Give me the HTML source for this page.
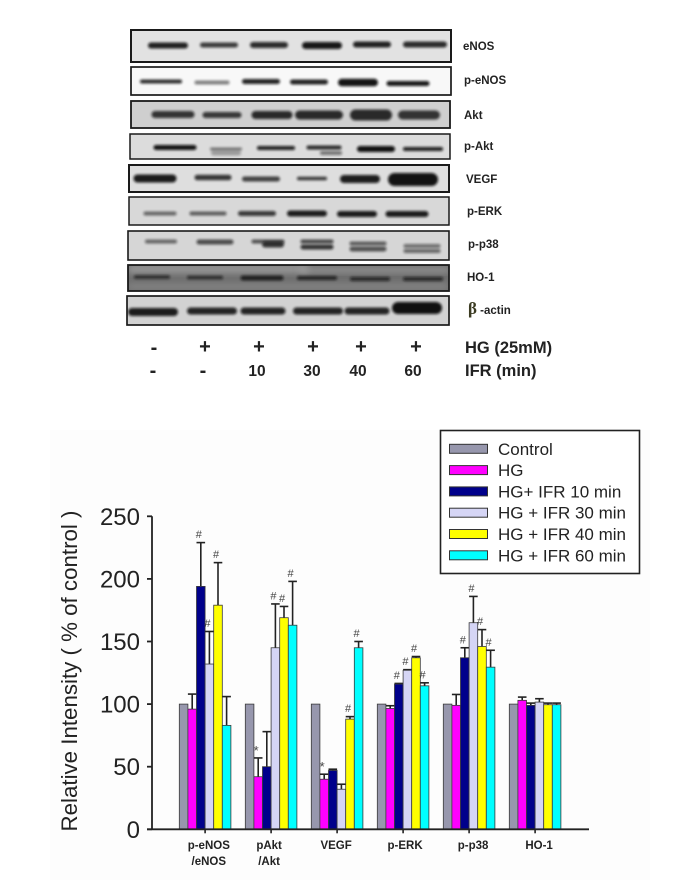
<!DOCTYPE html>
<html>
<head>
<meta charset="utf-8">
<title>Western blots and relative intensity chart</title>
<style>
html,body{margin:0;padding:0;background:#fff;}
#figure{display:block;width:685px;height:896px;font-family:"Liberation Sans",sans-serif;}
</style>
</head>
<body>
<svg id="figure" xmlns="http://www.w3.org/2000/svg" width="685" height="896" viewBox="0 0 685 896">
<defs>
<filter id="blur1" x="-30%" y="-150%" width="160%" height="400%"><feGaussianBlur stdDeviation="1.2"/></filter>
<filter id="blur3" x="-30%" y="-100%" width="160%" height="300%"><feGaussianBlur stdDeviation="3.5"/></filter>
<filter id="soft" x="-5%" y="-20%" width="110%" height="140%"><feGaussianBlur stdDeviation="0.35"/></filter>
</defs>
<rect x="50" y="430" width="600" height="450" fill="#fdfdfd"/>
<g id="blots"></g>

<g font-weight="bold" font-size="11.5" fill="#222" filter="url(#soft)">
<text x="463" y="50">eNOS</text>
<text x="464" y="84">p-eNOS</text>
<text x="464" y="119">Akt</text>
<text x="464" y="150">p-Akt</text>
<text x="466" y="183">VEGF</text>
<text x="467" y="215">p-ERK</text>
<text x="468" y="248">p-p38</text>
<text x="467" y="281">HO-1</text>
<text x="468" y="314"><tspan font-family="'Liberation Serif',serif" font-size="17" fill="#3a3a20">β</tspan> -actin</text>
</g>

<g font-weight="bold" font-size="20" fill="#222" text-anchor="middle" filter="url(#soft)">
<text x="154" y="354">-</text>
<text x="205" y="353">+</text>
<text x="259" y="353">+</text>
<text x="313" y="353">+</text>
<text x="361" y="353">+</text>
<text x="416" y="353">+</text>
<text x="465" y="353" text-anchor="start" font-size="16.5">HG (25mM)</text>
<text x="153" y="377">-</text>
<text x="203" y="377">-</text>
<text x="257" y="376" font-size="15.5">10</text>
<text x="312" y="376" font-size="15.5">30</text>
<text x="358" y="376" font-size="15.5">40</text>
<text x="413" y="376" font-size="15.5">60</text>
<text x="465" y="376" text-anchor="start" font-size="16.5">IFR (min)</text>
</g>

<g id="chart"></g>

<text transform="translate(77,671) rotate(-90)" text-anchor="middle" font-size="22.3" fill="#222" filter="url(#soft)">Relative Intensity ( % of control )</text>

<g>
<rect x="440.5" y="430.5" width="199" height="143" fill="#fff" stroke="#222" stroke-width="1.6"/>
<g id="legend-entries"></g>
</g>
</svg>

<script>
// ---------- chart data ----------
const categories = ['p-eNOS|/eNOS', 'pAkt|/Akt', 'VEGF', 'p-ERK', 'p-p38', 'HO-1'];
const seriesNames = ['Control', 'HG', 'HG+ IFR 10 min', 'HG + IFR 30 min', 'HG + IFR 40 min', 'HG + IFR 60 min'];
const seriesColors = ['#9797ad', '#ff00ff', '#00008b', '#d5d5f5', '#ffff00', '#00ffff'];
const control = [100, 100, 100, 100, 100, 100];
const hg = [96, 42, 40, 96.5, 99, 103];
const ifr10 = [194, 50, 47, 116, 137, 99];
const ifr30 = [132, 145, 32, 127, 165, 101.6];
const ifr40 = [179, 169, 88, 137, 146, 99.5];
const ifr60 = [83, 163, 145, 114.6, 129.5, 99.5];
const controlTop = [100, 100, 100, 100, 100, 100];
const hgTop = [108, 57, 44, 98.7, 107.7, 105.6];
const ifr10Top = [229, 78, 48, 116.5, 145, 100.8];
const ifr30Top = [158, 180, 36, 127.5, 186, 104.3];
const ifr40Top = [213, 178, 90, 138, 159.5, 100.8];
const ifr60Top = [106, 198, 150, 117, 143, 100.8];
const controlMarks = ['', '', '', '', '', ''];
const hgMarks = ['', '*', '*', '', '', ''];
const ifr10Marks = ['#', '', '', '#', '#', ''];
const ifr30Marks = ['#', '#', '', '#', '#', ''];
const ifr40Marks = ['#', '#', '#', '#', '#', ''];
const ifr60Marks = ['', '#', '#', '#', '#', ''];
const yTicks = [0, 50, 100, 150, 200, 250];

const seriesValues = [control, hg, ifr10, ifr30, ifr40, ifr60];
const seriesTops = [controlTop, hgTop, ifr10Top, ifr30Top, ifr40Top, ifr60Top];
const seriesMarks = [controlMarks, hgMarks, ifr10Marks, ifr30Marks, ifr40Marks, ifr60Marks];

// ---------- axis functions ----------
const NS = 'http://www.w3.org/2000/svg';
const BASE_Y = 829.3, PX_PER_UNIT = 1.252;
const FIRST_GROUP_X = 179.3, GROUP_STEP = 66, BAR_W = 8.6;
function yScale(v) { return BASE_Y - v * PX_PER_UNIT; }
function xScale(cat, ser) { return FIRST_GROUP_X + cat * GROUP_STEP + ser * BAR_W; }
function groupCenter(cat) { return xScale(cat, 3); }
const labelNudge = [3.7, -2, -1, 2, 4, 4];

function mk(tag, attrs, parent) {
  const e = document.createElementNS(NS, tag);
  for (const k in attrs) e.setAttribute(k, attrs[k]);
  parent.appendChild(e);
  return e;
}

const chart = document.getElementById('chart');

// bars, error bars and significance marks
seriesValues.forEach(function (vals, s) {
  vals.forEach(function (v, c) {
    const x = xScale(c, s);
    const top = seriesTops[s][c];
    if (top > v) {
      const cx = x + BAR_W / 2;
      const stem = mk('line', {x1: cx, x2: cx, y1: yScale(v), y2: yScale(top), stroke: '#222', 'stroke-width': 1.6}, chart);
      
      
      const cap = mk('line', {x1: x, x2: x + BAR_W, y1: yScale(top), y2: yScale(top), stroke: '#222', 'stroke-width': 1.6}, chart);
      
      
    }
    const bar = mk('rect', {x: x, y: yScale(v), width: BAR_W, height: BASE_Y - yScale(v), fill: seriesColors[s], stroke: '#3a3a3a', 'stroke-width': 0.8}, chart);
    
    
    const m = seriesMarks[s][c];
    if (m) {
      const t = mk('text', {x: x + BAR_W / 2 - 2, y: yScale(top) - (m === '*' ? 3 : 4.5), 'text-anchor': 'middle', 'font-size': m === '*' ? 13 : 11, fill: '#444'}, chart);
      t.textContent = m;
      
      
    }
  });
});

// axes
const yAxis = mk('line', {x1: 152, x2: 152, y1: yScale(250), y2: BASE_Y, stroke: '#222', 'stroke-width': 1.8}, chart);


const xAxis = mk('line', {x1: 147, x2: 589, y1: BASE_Y, y2: BASE_Y, stroke: '#222', 'stroke-width': 1.8}, chart);



yTicks.forEach(function (v) {
  const tk = mk('line', {x1: 147, x2: 152, y1: yScale(v), y2: yScale(v), stroke: '#222', 'stroke-width': 1.8}, chart);
  
  
  const lb = mk('text', {x: 140, y: yScale(v) + 8.5, 'text-anchor': 'end', 'font-size': 24, fill: '#222', filter: 'url(#soft)'}, chart);
  lb.textContent = v;
  
  
});

categories.forEach(function (name, c) {
  const gx = groupCenter(c);
  const tk = mk('line', {x1: gx, x2: gx, y1: BASE_Y, y2: BASE_Y + 4, stroke: '#222', 'stroke-width': 1.6}, chart);
  
  
  name.split('|').forEach(function (line, i) {
    const lb = mk('text', {x: gx + labelNudge[c], y: 849 + i * 16, 'text-anchor': 'middle', 'font-size': 11.5, 'font-weight': 'bold', fill: '#222', filter: 'url(#soft)'}, chart);
    lb.textContent = line;
    
    
  });
});

// legend
const legendEntries = document.getElementById('legend-entries');
seriesNames.forEach(function (name, s) {
  const cy = 448.8 + s * 21.3;
  const sw = mk('rect', {x: 449.5, y: cy - 4.5, width: 38, height: 9, fill: seriesColors[s], stroke: '#333', 'stroke-width': 1}, legendEntries);
  
  
  const t = mk('text', {x: 498, y: cy + 6, 'font-size': 17, fill: '#222', filter: 'url(#soft)'}, legendEntries);
  t.textContent = name;
  
  
});

// ---------- western blot panels ----------
const blotNames = ['enos', 'p-enos', 'akt', 'p-akt', 'vegf', 'p-erk', 'p-p38', 'ho-1', 'beta-actin'];
const blotBoxes = [
  [131, 30, 320, 32, '#e2e2e2', 2], [131, 67, 320, 28, '#f8f8f8', 1.7], [131, 101, 319, 27, '#cfcfcf', 1.8],
  [130, 134, 320, 25, '#dcdcdc', 1.5], [129, 165, 320, 27, '#dedede', 2], [129, 197, 320, 28, '#d8d8d8', 1.5],
  [128, 231, 321, 29, '#d6d6d6', 1.6], [128, 265, 321, 26, '#6d6d6d', 1.8], [127, 296, 322, 29, '#d2d2d2', 1.7]
];
const blotBands = [
  [[168,45.5,40,6,.9],[219,45,38,5,.78],[269,45,38,6,.85],[322,45.5,40,7,.95],[372,44.5,38,6,.9],[425,44.5,44,6,.85]],
  [[161,81.5,42,4,.85],[212,82.5,35,4,.5],[261,81.5,38,5,.9],[309,82,38,5,.9],[358,82.5,40,7.5,.97],[408,83.5,43,5,.95]],
  [[173,114.5,43,7,.8],[222,115,39,6,.78],[272,115,41,8,.85],[319,115,48,9,.85],[371,115,42,11,.85],[419,115,42,9,.8]],
  [[175,147.5,43,5,.97],[226,149,32,3,.5],[226,153,30,5,.3],[276,148,38,4,.9],[324,147.5,35,4,.85],[331,153,22,4,.5],[376,149,38,6,.98],[423,149,40,4,.9]],
  [[155,178.5,43,8,.93],[213,177.5,37,5.5,.8],[261,179,38,5,.75],[312,178.5,30,3.5,.8],[360,179,40,8,.92],[413,179.5,50,13,.97]],
  [[160,213.5,33,4,.55],[208,213.5,37,4,.6],[257,213.5,38,5,.78],[307,213.5,40,6,.92],[357,214,40,6,.93],[407,214,43,6,.93]],
  [[161,241.5,32,4,.55],[215,242,37,5,.68],[268,241.5,33,4,.65],[273,244.5,22,6,.8],[317,241.5,33,4,.7],[317,247,33,5,.8],[368,243.5,37,4,.6],[368,249,37,5,.65],[422,246,37,4,.5],[422,251,37,4,.55]],
  [[152,277,36,3.5,.7],[205,277.5,36,3.5,.7],[262,278,43,5,.8],[317,278,40,4,.75],[370,279,40,4,.7],[423,279,40,4,.7]],
  [[153,312,50,8,.92],[212,311,50,7,.88],[263,311,45,7,.88],[318,311,50,7,.88],[367,311,45,7,.88],[417,308,50,12,.98]]
];
const blotsRoot = document.getElementById('blots');
blotNames.forEach(function (name, i) {
  const b = blotBoxes[i];
  const clip = mk('clipPath', {id: 'clip' + i}, blotsRoot);
  mk('rect', {x: b[0], y: b[1], width: b[2], height: b[3]}, clip);
  const panel = mk('g', {'clip-path': 'url(#clip' + i + ')'}, blotsRoot);
  
  
  mk('rect', {x: b[0], y: b[1], width: b[2], height: b[3], fill: b[4]}, panel);
  if (name === 'ho-1') {
    mk('rect', {x: 128, y: 265, width: 180, height: 8, fill: '#9a9a9a', filter: 'url(#blur3)'}, panel);
    mk('rect', {x: 300, y: 268, width: 150, height: 4, fill: '#a0a0a0', filter: 'url(#blur3)'}, panel);
    mk('rect', {x: 128, y: 284, width: 320, height: 5, fill: '#8a8a8a', filter: 'url(#blur3)'}, panel);
  }
  blotBands[i].forEach(function (d) {
    const band = mk('rect', {x: d[0] - d[2] / 2, y: d[1] - d[3] / 2, width: d[2], height: d[3], rx: d[3] / 2, ry: d[3] / 2, fill: '#111', opacity: d[4], filter: 'url(#blur1)'}, panel);
    
    
  });
  const frame = mk('rect', {x: b[0], y: b[1], width: b[2], height: b[3], fill: 'none', stroke: '#1a1a1a', 'stroke-width': b[5]}, blotsRoot);
  
  
});
</script>
</body>
</html>
